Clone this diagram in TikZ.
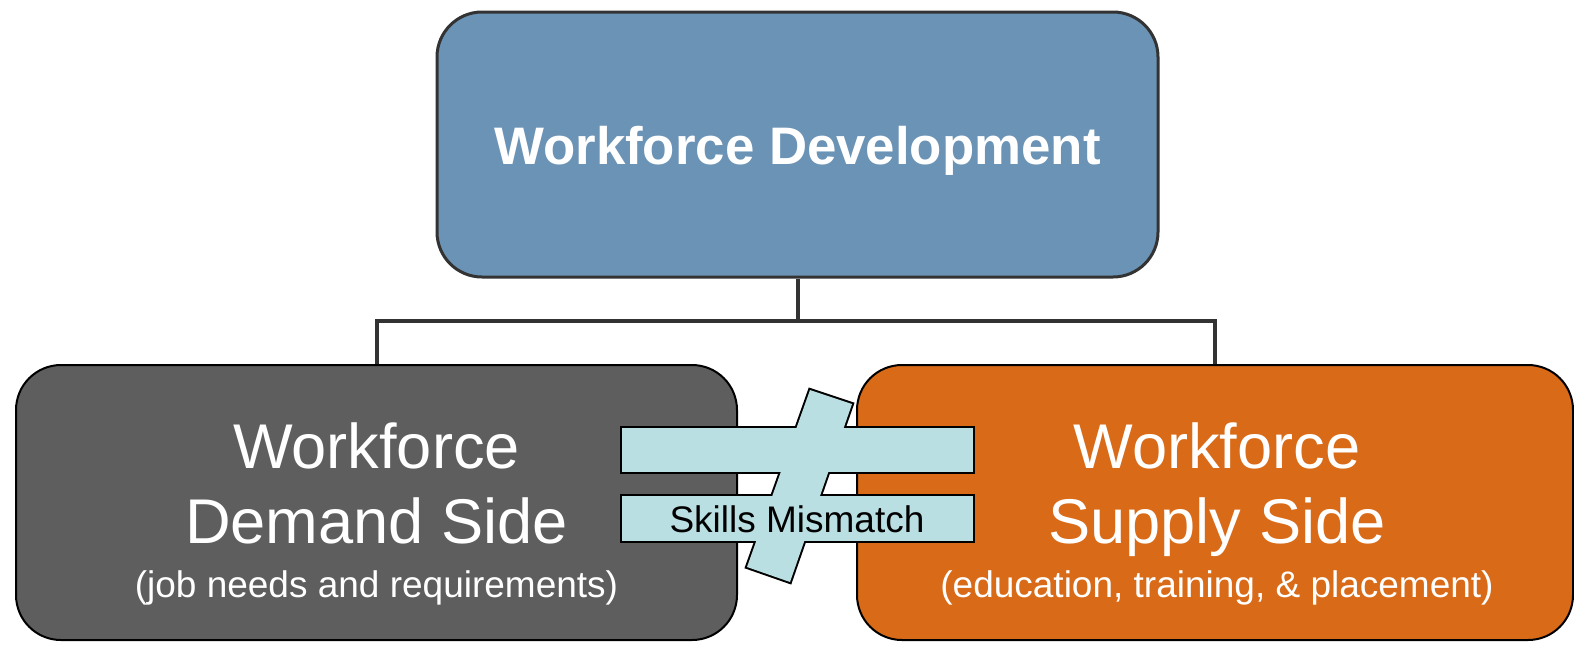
\documentclass[tikz,border=0pt]{standalone}
\usepackage{fontspec}
\setmainfont{Liberation Sans}
\usetikzlibrary{positioning}
\definecolor{topblue}{HTML}{6B93B5}
\definecolor{demandgray}{HTML}{5E5E5E}
\definecolor{supplyorange}{HTML}{D96A17}
\definecolor{signcyan}{HTML}{B9DFE3}
\definecolor{edgegray}{HTML}{333333}
\tikzset{
  box/.style={draw,rounded corners=22.5pt,minimum height=137.5pt,minimum width=360.5pt,line width=1pt},
  bigtext/.style={text=white,align=center,font=\fontsize{31.6}{37.5}\selectfont},
  link/.style={draw=edgegray,line width=2pt}
}
\begin{document}
\begin{tikzpicture}[x=0.5pt,y=-0.5pt]
\useasboundingbox (0,0) rectangle (1574,644);
% the three boxes
\node[box,fill=topblue,draw=edgegray,line width=1.5pt,minimum height=132.5pt] (wfd) at (797.5,144.5) {};
\node[text=white,font=\bfseries\fontsize{26.4}{30}\selectfont] (wfdtext) at (797.5,151) {Workforce Development};
\node[box,fill=demandgray] (demand) at (376.5,502.5) {};
\node[box,fill=supplyorange,minimum width=358pt] (supply) at (1215,502.5) {};
\node[bigtext] (demandtext) at ([yshift=-5.75pt]demand.center) {Workforce\\Demand Side\\[-10.5pt]{\fontsize{18.5}{25.5}\selectfont (job needs and requirements)}};
\node[bigtext] (supplytext) at ([xshift=1pt,yshift=-5.75pt]supply.center) {Workforce\\Supply Side\\[-10.5pt]{\fontsize{18.5}{25.5}\selectfont (education, training, \& placement)}};
% connectors
\coordinate (fork) at (797.5,321);
\draw[link] (wfd.south) -- (fork);
\draw[link] (fork) -| (demand.north);
\draw[link] (fork) -| (supply.north);
% not-equal sign (outline first, then fill over it)
\begin{scope}[line width=2pt]
\draw (622,428) rectangle (973,472);
\draw (622,496) rectangle (973,541);
\draw (810,390) -- (852,404) -- (790,582) -- (747,567) -- cycle;
\fill[signcyan] (622,428) rectangle (973,472);
\fill[signcyan] (622,496) rectangle (973,541);
\fill[signcyan] (810,390) -- (852,404) -- (790,582) -- (747,567) -- cycle;
\end{scope}
\node[font=\fontsize{18.5}{22}\selectfont,anchor=base] (mismatch) at (797,532) {Skills Mismatch};
\end{tikzpicture}
\end{document}
